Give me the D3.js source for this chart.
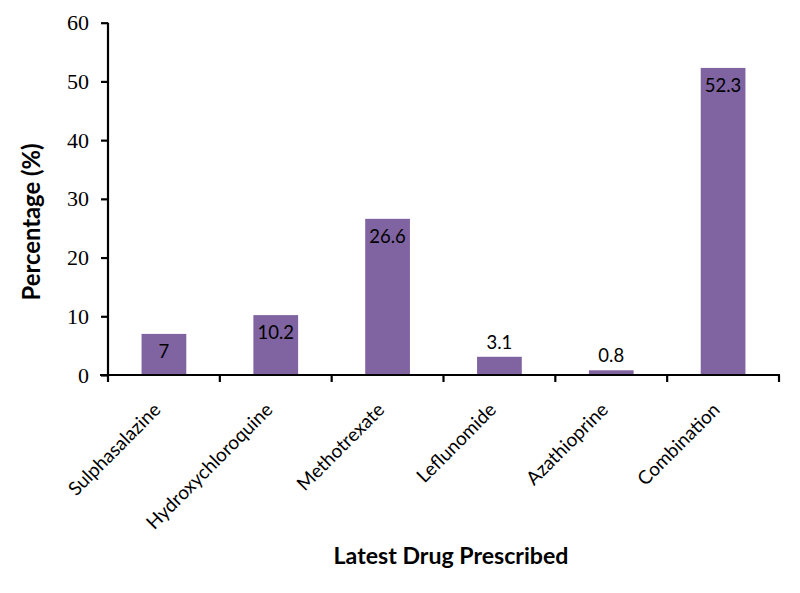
<!DOCTYPE html>
<html><head><meta charset="utf-8">
<script src="https://cdn.jsdelivr.net/npm/d3@7"></script>
<style>body{margin:0;background:#fff;} svg{display:block;}</style>
</head><body>
<svg id="chart" width="800" height="593"></svg>
<script>
const categories = ["Sulphasalazine","Hydroxychloroquine","Methotrexate","Leflunomide","Azathioprine","Combination"];
const values = [7, 10.2, 26.6, 3.1, 0.8, 52.3];
const yTicks = [0,10,20,30,40,50,60];
const yTitle = "Percentage (%)";
const xTitle = "Latest Drug Prescribed";

const SANS = "Lato, Open Sans, sans-serif";
const svg = d3.select("#chart");
const mLeft = 108, mRight = 779, mTop = 22.7, mBottom = 375;
const x = d3.scaleBand().domain(categories).range([mLeft,mRight]).paddingInner(0.6).paddingOuter(0.3);
const y = d3.scaleLinear().domain([0,60]).range([mBottom, mTop]);

// fit font size so that a sample string gets a given width
function fitSize(sel, target){
  const n = sel.node(); const fs = +sel.attr("font-size");
  const w = n.getComputedTextLength();
  return fs * target / w;
}

svg.selectAll("rect.bar").data(values).enter().append("rect")
  .attr("class","bar")
  .attr("x",(d,i)=>x(categories[i]))
  .attr("width",x.bandwidth())
  .attr("y",d=>y(d))
  .attr("height",d=>y(0)-y(d))
  .attr("fill","#8064A2");

// y axis
const yAxis = svg.append("g").attr("transform",`translate(${mLeft},0)`)
  .call(d3.axisLeft(y).tickValues(yTicks).tickSize(7).tickPadding(12));
yAxis.select(".domain").attr("stroke","#000").attr("stroke-width",2.2).attr("d",`M0,${mTop}V${mBottom}`);
yAxis.selectAll(".tick line").attr("stroke","#000").attr("stroke-width",2.2);
yAxis.selectAll(".tick text").attr("font-family","Liberation Serif, Times New Roman, serif").attr("font-size",22).attr("fill","#000");

// x axis
const tickPos = categories.map(c=>x(c)-x.step()*x.paddingInner()/2).concat([mRight]);
const xg = svg.append("g").attr("transform",`translate(0,${mBottom})`);
xg.append("line").attr("x1",mLeft-8).attr("x2",mRight+1).attr("y1",0).attr("y2",0).attr("stroke","#000").attr("stroke-width",2.2);
xg.selectAll("line.xt").data(tickPos).enter().append("line").attr("class","xt")
  .attr("x1",d=>d).attr("x2",d=>d).attr("y1",0).attr("y2",7).attr("stroke","#000").attr("stroke-width",2.2);

// category labels
const cats = svg.selectAll("text.cat").data(categories).enter().append("text").attr("class","cat")
  .attr("transform",c=>`translate(${x(c)+x.bandwidth()/2-2},${mBottom+36}) rotate(-45)`)
  .attr("text-anchor","end")
  .attr("font-family",SANS).attr("font-size",18).attr("fill","#000")
  .text(c=>c);
const catFs = fitSize(cats.filter((c,i)=>i===1), 169);
cats.attr("font-size",catFs);

// value labels
const vals = svg.selectAll("text.val").data(values).enter().append("text").attr("class","val")
  .attr("x",(d,i)=>x(categories[i])+x.bandwidth()/2)
  .attr("y",d=> d>5 ? y(d)+24 : y(d)-8)
  .attr("text-anchor","middle")
  .attr("font-family",SANS).attr("font-size",17).attr("fill","#000")
  .text(d=>d);
vals.attr("font-size", fitSize(vals.filter((d,i)=>i===5), 36.5));

// titles
const yt = svg.append("text").attr("transform",`translate(40,222) rotate(-90)`).attr("text-anchor","middle")
  .attr("font-family",SANS).attr("font-weight","bold").attr("font-size",20).text(yTitle);
yt.attr("font-size", fitSize(yt, 157));
const xt = svg.append("text").attr("x",451).attr("y",564).attr("text-anchor","middle")
  .attr("font-family",SANS).attr("font-weight","bold").attr("font-size",20).text(xTitle);
xt.attr("font-size", fitSize(xt, 235));
</script>
</body></html>
